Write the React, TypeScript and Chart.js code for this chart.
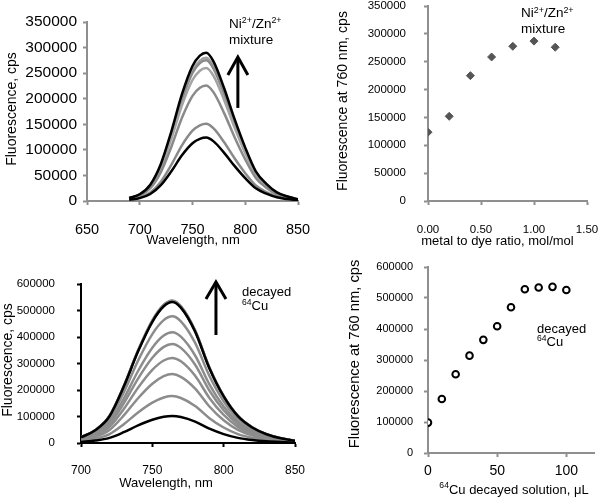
import React, { useEffect, useRef } from "react";
import { Chart, registerables } from "chart.js";

Chart.register(...registerables);

const FONT = '"Liberation Sans", Arial, Helvetica, sans-serif';

// ---------- Panel A: Ni2+/Zn2+ spectra ----------
const NI_WAVELENGTHS = [690, 700, 710, 720, 730, 740, 750, 757, 763, 770, 780, 790, 800, 810, 820, 830, 840, 850];
const NI_SPEC_0 = [2500, 5600, 13600, 31000, 58300, 89300, 112800, 121500, 124000, 116600, 94200, 68200, 44600, 24800, 14300, 7200, 3700, 1500];
const NI_SPEC_1 = [3000, 6800, 16600, 37800, 71000, 108700, 137400, 148000, 151000, 141900, 114800, 83100, 54400, 30200, 17400, 8800, 4500, 1800];
const NI_SPEC_2 = [4500, 10200, 24900, 56500, 106200, 162700, 205700, 221500, 226000, 212400, 171800, 124300, 81400, 45200, 26000, 13100, 6800, 2700];
const NI_SPEC_3 = [5200, 11700, 28600, 65000, 122200, 187200, 236600, 254800, 260000, 244400, 197600, 143000, 93600, 52000, 29900, 15100, 7800, 3100];
const NI_SPEC_4 = [5500, 12400, 30300, 68800, 129300, 198000, 250300, 269500, 275000, 258500, 209000, 151300, 99000, 55000, 31600, 16000, 8300, 3300];
const NI_SPEC_5 = [5600, 12600, 30800, 70000, 131600, 201600, 254800, 274400, 280000, 263200, 212800, 154000, 100800, 56000, 32200, 16200, 8400, 3400];
const NI_SPEC_6 = [5800, 13100, 31900, 72500, 136300, 208800, 263900, 284200, 290000, 272600, 220400, 159500, 104400, 58000, 33400, 16800, 8700, 3500];
const NI_SPECTRA = [NI_SPEC_0, NI_SPEC_1, NI_SPEC_2, NI_SPEC_3, NI_SPEC_4, NI_SPEC_5, NI_SPEC_6];
const NI_SPEC_COLORS = ["#000000", "#8a8a8a", "#8a8a8a", "#a3a3a3", "#8a8a8a", "#a3a3a3", "#000000"];
const NI_SPEC_X_TICKS = [650, 700, 750, 800, 850];
const NI_Y_TICKS = [0, 50000, 100000, 150000, 200000, 250000, 300000, 350000];

// ---------- Panel B: Ni2+/Zn2+ titration ----------
const NI_RATIO = [0, 0.2, 0.4, 0.6, 0.8, 1.0, 1.2];
const NI_FLUOR_760 = [123500, 152000, 225000, 258500, 277700, 287000, 276000];
const NI_RATIO_X_TICKS = [0, 0.5, 1.0, 1.5];

// ---------- Panel C: decayed 64Cu spectra ----------
const CU_WAVELENGTHS = [700, 710, 720, 730, 740, 750, 758, 764, 770, 780, 790, 800, 810, 820, 830, 840, 850];
const CU_SPEC_0 = [4100, 9200, 19400, 40800, 66300, 87700, 98900, 102000, 97900, 80600, 54100, 33700, 19400, 11200, 6300, 3400, 1600];
const CU_SPEC_1 = [7100, 15900, 33600, 70800, 115100, 152200, 171700, 177000, 169900, 139800, 93800, 58400, 33600, 19500, 11000, 5800, 2800];
const CU_SPEC_2 = [10400, 23400, 49400, 104000, 169000, 223600, 252200, 260000, 249600, 205400, 137800, 85800, 49400, 28600, 16100, 8600, 4200];
const CU_SPEC_3 = [12800, 28900, 61000, 128400, 208700, 276100, 311400, 321000, 308200, 253600, 170100, 105900, 61000, 35300, 19900, 10600, 5100];
const CU_SPEC_4 = [15000, 33700, 71100, 149600, 243100, 321600, 362800, 374000, 359000, 295500, 198200, 123400, 71100, 41100, 23200, 12300, 6000];
const CU_SPEC_5 = [16700, 37600, 79400, 167200, 271700, 359500, 405500, 418000, 401300, 330200, 221500, 137900, 79400, 46000, 25900, 13800, 6700];
const CU_SPEC_6 = [19100, 43000, 90800, 191200, 310700, 411100, 463700, 478000, 458900, 377600, 253300, 157700, 90800, 52600, 29600, 15800, 7600];
const CU_SPEC_7 = [21400, 48200, 101800, 214400, 348400, 461000, 519900, 536000, 514600, 423400, 284100, 176900, 101800, 59000, 33200, 17700, 8600];
const CU_SPEC_8 = [21500, 48400, 102200, 215200, 349700, 462700, 521900, 538000, 516500, 425000, 285100, 177500, 102200, 59200, 33400, 17800, 8600];
const CU_SPEC_9 = [21400, 48100, 101500, 213600, 347100, 459200, 518000, 534000, 512600, 421900, 283000, 176200, 101500, 58700, 33100, 17600, 8500];
const CU_SPEC_10 = [21300, 47900, 101100, 212800, 345800, 457500, 516000, 532000, 510700, 420300, 282000, 175600, 101100, 58500, 33000, 17600, 8500];
const CU_SPECTRA = [CU_SPEC_0, CU_SPEC_1, CU_SPEC_2, CU_SPEC_3, CU_SPEC_4, CU_SPEC_5, CU_SPEC_6, CU_SPEC_7, CU_SPEC_8, CU_SPEC_9, CU_SPEC_10];
const CU_SPEC_COLORS = ["#000000", "#8c8c8c", "#8c8c8c", "#8c8c8c", "#8c8c8c", "#8c8c8c", "#8c8c8c", "#8c8c8c", "#8c8c8c", "#8c8c8c", "#000000"];
const CU_SPEC_X_TICKS = [700, 750, 800, 850];
const CU_Y_TICKS = [0, 100000, 200000, 300000, 400000, 500000, 600000];

// ---------- Panel D: decayed 64Cu titration ----------
const CU_VOLUME = [0, 10, 20, 30, 40, 50, 60, 70, 80, 90, 100];
const CU_FLUOR_760 = [98000, 174000, 254000, 314000, 365000, 409000, 470000, 528000, 534000, 536000, 526000];
const CU_VOL_X_TICKS = [0, 50, 100];

// ---------- helpers ----------
type Part = { t: string; sup?: boolean };
type RichLabel = { parts: Part[]; x: number; y: number; size: number; align?: "left" | "center"; rotate?: boolean; baseline?: "alphabetic" | "middle" };
type Arrow = { x: number; from: number; to: number; width: number; headW: number; headL: number };

function drawRich(ctx: CanvasRenderingContext2D, l: RichLabel) {
  const supSize = l.size * 0.66;
  const widths = l.parts.map((p) => {
    ctx.font = `${p.sup ? supSize : l.size}px ${FONT}`;
    return ctx.measureText(p.t).width;
  });
  const total = widths.reduce((a, b) => a + b, 0);
  ctx.save();
  ctx.translate(l.x, l.y);
  if (l.rotate) ctx.rotate(-Math.PI / 2);
  ctx.fillStyle = "#000";
  ctx.textAlign = "left";
  ctx.textBaseline = l.baseline || "alphabetic";
  let cx = l.align === "center" ? -total / 2 : 0;
  l.parts.forEach((p, i) => {
    ctx.font = `${p.sup ? supSize : l.size}px ${FONT}`;
    ctx.fillText(p.t, cx, p.sup ? -l.size * 0.36 : 0);
    cx += widths[i];
  });
  ctx.restore();
}

function makeOverlay(labels: RichLabel[], arrows: Arrow[]) {
  return {
    id: "overlay",
    afterDraw(chart: any) {
      const ctx: CanvasRenderingContext2D = chart.ctx;
      const xs = chart.scales.x;
      const ys = chart.scales.y;
      arrows.forEach((a) => {
        const x = xs.getPixelForValue(a.x);
        const y0 = ys.getPixelForValue(a.from);
        const y1 = ys.getPixelForValue(a.to);
        ctx.save();
        ctx.strokeStyle = "#000";
        ctx.lineWidth = a.width;
        ctx.lineJoin = "miter";
        ctx.beginPath();
        ctx.moveTo(x, y0);
        ctx.lineTo(x, y1 + 2);
        ctx.stroke();
        ctx.beginPath();
        ctx.moveTo(x - a.headW, y1 + a.headL);
        ctx.lineTo(x, y1);
        ctx.lineTo(x + a.headW, y1 + a.headL);
        ctx.stroke();
        ctx.restore();
      });
      labels.forEach((l) => drawRich(ctx, l));
    },
  };
}

type AxisSpec = {
  min: number;
  max: number;
  ticks: number[];
  font: number;
  pad: number;
  color: string;
  fit: number;
  horizontal: boolean;
  fmt?: (v: number) => string;
};

function axis(s: AxisSpec) {
  return {
    type: "linear",
    min: s.min,
    max: s.max,
    afterBuildTicks: (sc: any) => {
      sc.ticks = s.ticks.map((v) => ({ value: v }));
    },
    afterFit: (sc: any) => {
      if (s.horizontal) {
        sc.height = s.fit;
        sc.paddingLeft = 0;
        sc.paddingRight = 0;
      } else {
        sc.width = s.fit;
        sc.paddingTop = 0;
        sc.paddingBottom = 0;
      }
    },
    grid: { display: true, drawOnChartArea: false, drawTicks: true, tickLength: 4, tickWidth: 2, tickColor: s.color, color: s.color },
    border: { display: true, color: s.color, width: 2 },
    ticks: {
      font: { family: FONT, size: s.font },
      color: "#000",
      padding: s.pad,
      autoSkip: false,
      maxRotation: 0,
      callback: (v: any) => (s.fmt ? s.fmt(Number(v)) : String(v)),
    },
    title: { display: false },
  };
}

function baseOptions(padding: any, x: any, y: any) {
  return {
    responsive: false,
    maintainAspectRatio: false,
    animation: false,
    layout: { padding },
    plugins: { legend: { display: false }, tooltip: { enabled: false } },
    scales: { x, y },
  };
}

const GRAY_AXIS = "#8f8f8f";

function configNiSpectra(): any {
  return {
    type: "line",
    data: {
      datasets: NI_SPECTRA.map((vals, i) => ({
        data: NI_WAVELENGTHS.map((w, j) => ({ x: w, y: vals[j] })),
        borderColor: NI_SPEC_COLORS[i],
        borderWidth: 2.5,
        pointRadius: 0,
        fill: false,
        cubicInterpolationMode: "monotone",
        order: NI_SPEC_COLORS[i] === "#000000" ? 0 : 1,
      })),
    },
    options: baseOptions(
      { left: 0, top: 22, right: 22, bottom: 0 },
      axis({ min: 650, max: 850, ticks: NI_SPEC_X_TICKS, font: 14.5, pad: 16, color: GRAY_AXIS, fit: 49, horizontal: true }),
      axis({ min: 0, max: 350000, ticks: NI_Y_TICKS, font: 15.5, pad: 6, color: GRAY_AXIS, fit: 87, horizontal: false })
    ),
    plugins: [
      makeOverlay(
        [
          { parts: [{ t: "Wavelength, nm" }], x: 193, y: 240.5, size: 13, align: "center", baseline: "middle" },
          { parts: [{ t: "Fluorescence, cps" }], x: 12.5, y: 109, size: 14, align: "center", rotate: true, baseline: "middle" },
          { parts: [{ t: "Ni" }, { t: "2+", sup: true }, { t: "/Zn" }, { t: "2+", sup: true }], x: 229, y: 27.5, size: 13.5 },
          { parts: [{ t: "mixture" }], x: 229, y: 43.5, size: 13.5 },
        ],
        [{ x: 793, from: 182000, to: 281500, width: 3, headW: 10, headL: 18 }]
      ),
    ],
  };
}

function configNiRatio(): any {
  return {
    type: "scatter",
    data: {
      datasets: [
        {
          data: NI_RATIO.map((r, i) => ({ x: r, y: NI_FLUOR_760[i] })),
          pointStyle: "rectRot",
          pointRadius: 4,
          backgroundColor: "#555555",
          borderColor: "#555555",
          borderWidth: 1,
        },
      ],
    },
    options: baseOptions(
      { left: 0, top: 6, right: 13, bottom: 0 },
      axis({ min: 0, max: 1.5, ticks: NI_RATIO_X_TICKS, font: 11.5, pad: 17.5, color: GRAY_AXIS, fit: 49, horizontal: true, fmt: (v) => v.toFixed(2) }),
      axis({ min: 0, max: 350000, ticks: NI_Y_TICKS, font: 11.5, pad: 18, color: GRAY_AXIS, fit: 128, horizontal: false })
    ),
    plugins: [
      makeOverlay(
        [
          { parts: [{ t: "metal to dye ratio, mol/mol" }], x: 197.5, y: 241, size: 13, align: "center", baseline: "middle" },
          { parts: [{ t: "Fluorescence at 760 nm, cps" }], x: 43.5, y: 101, size: 14, align: "center", rotate: true, baseline: "middle" },
          { parts: [{ t: "Ni" }, { t: "2+", sup: true }, { t: "/Zn" }, { t: "2+", sup: true }], x: 221, y: 17.4, size: 13.5 },
          { parts: [{ t: "mixture" }], x: 221, y: 32.8, size: 13.5 },
        ],
        []
      ),
    ],
  };
}

function configCuSpectra(): any {
  return {
    type: "line",
    data: {
      datasets: CU_SPECTRA.map((vals, i) => ({
        data: CU_WAVELENGTHS.map((w, j) => ({ x: w, y: vals[j] })),
        borderColor: CU_SPEC_COLORS[i],
        borderWidth: 2.5,
        pointRadius: 0,
        fill: false,
        cubicInterpolationMode: "monotone",
        order: CU_SPEC_COLORS[i] === "#000000" ? 0 : 1,
      })),
    },
    options: baseOptions(
      { left: 0, top: 34, right: 25, bottom: 0 },
      axis({ min: 700, max: 850, ticks: CU_SPEC_X_TICKS, font: 12, pad: 16.5, color: "#000000", fit: 58, horizontal: true }),
      axis({ min: 0, max: 600000, ticks: CU_Y_TICKS, font: 11.5, pad: 22, color: "#000000", fit: 81, horizontal: false })
    ),
    plugins: [
      makeOverlay(
        [
          { parts: [{ t: "Wavelength, nm" }], x: 166, y: 233, size: 13, align: "center", baseline: "middle" },
          { parts: [{ t: "Fluorescence, cps" }], x: 8, y: 110, size: 14, align: "center", rotate: true, baseline: "middle" },
          { parts: [{ t: "decayed" }], x: 242, y: 46, size: 13 },
          { parts: [{ t: "64", sup: true }, { t: "Cu" }], x: 242, y: 59.5, size: 13 },
        ],
        [{ x: 794.6, from: 407500, to: 607500, width: 3, headW: 10, headL: 17 }]
      ),
    ],
  };
}

function configCuVolume(): any {
  return {
    type: "scatter",
    data: {
      datasets: [
        {
          data: CU_VOLUME.map((v, i) => ({ x: v, y: CU_FLUOR_760[i] })),
          pointStyle: "circle",
          pointRadius: 3.3,
          backgroundColor: "#ffffff",
          borderColor: "#000000",
          borderWidth: 2,
        },
      ],
    },
    options: baseOptions(
      { left: 0, top: 17, right: 5, bottom: 0 },
      axis({ min: 0, max: 120, ticks: CU_VOL_X_TICKS, font: 14, pad: 5.5, color: GRAY_AXIS, fit: 48, horizontal: true }),
      axis({ min: 0, max: 600000, ticks: CU_Y_TICKS, font: 11, pad: 11, color: GRAY_AXIS, fit: 128, horizontal: false })
    ),
    plugins: [
      makeOverlay(
        [
          { parts: [{ t: "64", sup: true }, { t: "Cu decayed solution, μL" }], x: 214, y: 240, size: 13, align: "center", baseline: "middle" },
          { parts: [{ t: "Fluorescence at 760 nm, cps" }], x: 55, y: 104, size: 14.7, align: "center", rotate: true, baseline: "middle" },
          { parts: [{ t: "decayed" }], x: 237, y: 83, size: 13 },
          { parts: [{ t: "64", sup: true }, { t: "Cu" }], x: 237, y: 95.5, size: 13 },
        ],
        []
      ),
    ],
  };
}

function Panel(props: { left: number; top: number; width: number; height: number; make: () => any }) {
  const ref = useRef<HTMLCanvasElement>(null);
  useEffect(() => {
    const chart = new Chart(ref.current as HTMLCanvasElement, props.make());
    return () => chart.destroy();
  }, []);
  return (
    <canvas
      ref={ref}
      width={props.width}
      height={props.height}
      style={{ position: "absolute", left: props.left, top: props.top, width: props.width, height: props.height }}
    />
  );
}

export default function App() {
  return (
    <div style={{ position: "absolute", left: 0, top: 0, width: 600, height: 501, background: "#ffffff", overflow: "hidden" }}>
      <Panel left={0} top={0} width={320} height={250} make={configNiSpectra} />
      <Panel left={300} top={0} width={300} height={250} make={configNiRatio} />
      <Panel left={0} top={250} width={320} height={251} make={configCuSpectra} />
      <Panel left={300} top={250} width={300} height={251} make={configCuVolume} />
    </div>
  );
}
